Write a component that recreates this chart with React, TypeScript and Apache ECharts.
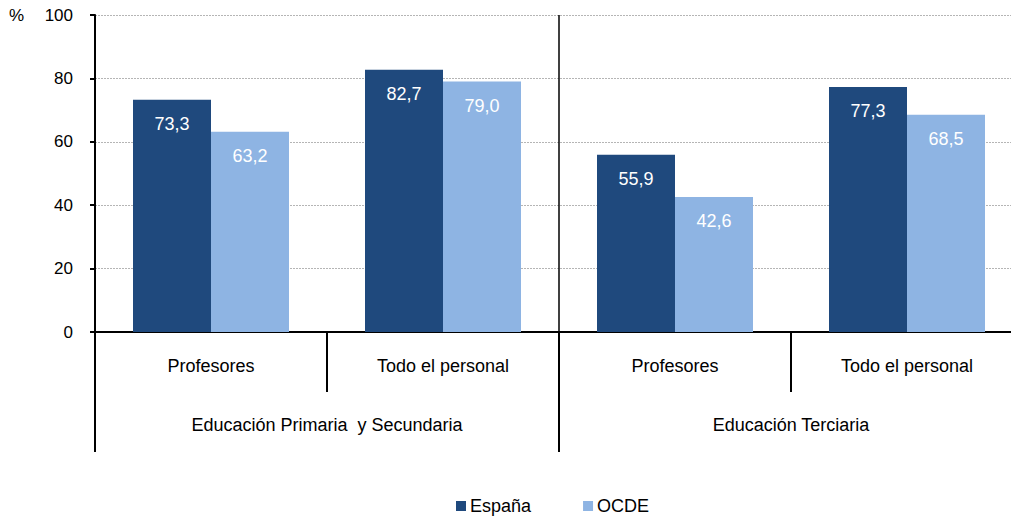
import React, { useEffect, useRef } from "react";
import * as echarts from "echarts";

const categories = ["Profesores", "Todo el personal", "Profesores", "Todo el personal"];
const groups = ["Educación Primaria  y Secundaria", "Educación Terciaria"];
const espana = [73.3, 82.7, 55.9, 77.3];
const ocde = [63.2, 79.0, 42.6, 68.5];
const seriesNames = ["España", "OCDE"];

const FONT = "'Liberation Sans', Arial, sans-serif";

export default function App() {
  const ref = useRef<HTMLDivElement>(null);
  useEffect(() => {
    if (!ref.current) return;
    const chart = echarts.init(ref.current, undefined, { renderer: "svg" });
    const fmt = (p: any) => Number(p.value).toFixed(1).replace(".", ",");
    const labelCfg = {
      show: true,
      position: "insideTop",
      distance: 15,
      color: "#ffffff",
      fontSize: 18,
      fontFamily: FONT,
      formatter: fmt,
    };
    chart.setOption({
      animation: false,
      textStyle: { fontFamily: FONT },
      grid: { left: 95, top: 15, bottom: 186, right: 7, containLabel: false },
      legend: {
        left: 456,
        top: 497,
        itemWidth: 10,
        itemHeight: 10,
        itemGap: 52,
        icon: "rect",
        padding: 0,
        textStyle: {
          fontSize: 18,
          fontFamily: FONT,
          color: "#000",
          padding: [0, 0, 0, -1],
        },
        data: seriesNames,
      },
      graphic: [
        {
          type: "text",
          left: 9,
          top: 7,
          style: { text: "%", fontSize: 17, fontFamily: FONT, fill: "#000" },
        },
      ],
      xAxis: [
        {
          type: "category",
          data: categories,
          position: "bottom",
          axisLine: { show: true, lineStyle: { color: "#000", width: 2 } },
          axisTick: { show: true, interval: 0, length: 60, lineStyle: { color: "#000", width: 2 } },
          axisLabel: { interval: 0, margin: 25, fontSize: 18, fontFamily: FONT, color: "#000" },
          splitLine: { show: false },
        },
        {
          type: "category",
          data: groups,
          position: "bottom",
          offset: 60,
          axisLine: { show: false },
          axisTick: { show: true, interval: 0, length: 60, lineStyle: { color: "#000", width: 2 } },
          axisLabel: { interval: 0, margin: 24, fontSize: 18, fontFamily: FONT, color: "#000" },
        },
        {
          type: "category",
          data: groups,
          position: "top",
          axisLine: { show: false },
          axisTick: { show: true, interval: 0, inside: true, length: 317, lineStyle: { color: "#000", width: 1.5 } },
          axisLabel: { show: false },
        },
      ],
      yAxis: {
        type: "value",
        min: 0,
        max: 100,
        interval: 20,
        axisLine: { show: true, lineStyle: { color: "#000", width: 2 } },
        axisTick: { show: true, length: 5, lineStyle: { color: "#000", width: 2 } },
        axisLabel: { margin: 22, fontSize: 17, fontFamily: FONT, color: "#000" },
        splitLine: { show: true, lineStyle: { color: "#b5b5b5", type: [2, 1], width: 1 } },
      },
      series: [
        {
          name: seriesNames[0],
          type: "bar",
          xAxisIndex: 0,
          data: espana,
          barWidth: 78,
          barGap: "0%",
          itemStyle: { color: "#1F497D" },
          label: labelCfg,
        },
        {
          name: seriesNames[1],
          type: "bar",
          xAxisIndex: 0,
          data: ocde,
          barWidth: 78,
          barGap: "0%",
          itemStyle: { color: "#8EB4E3" },
          label: labelCfg,
        },
      ],
    });
    return () => chart.dispose();
  }, []);
  return (
    <div
      ref={ref}
      style={{ position: "fixed", left: 0, top: 0, width: 1030, height: 518, background: "#fff" }}
    />
  );
}
